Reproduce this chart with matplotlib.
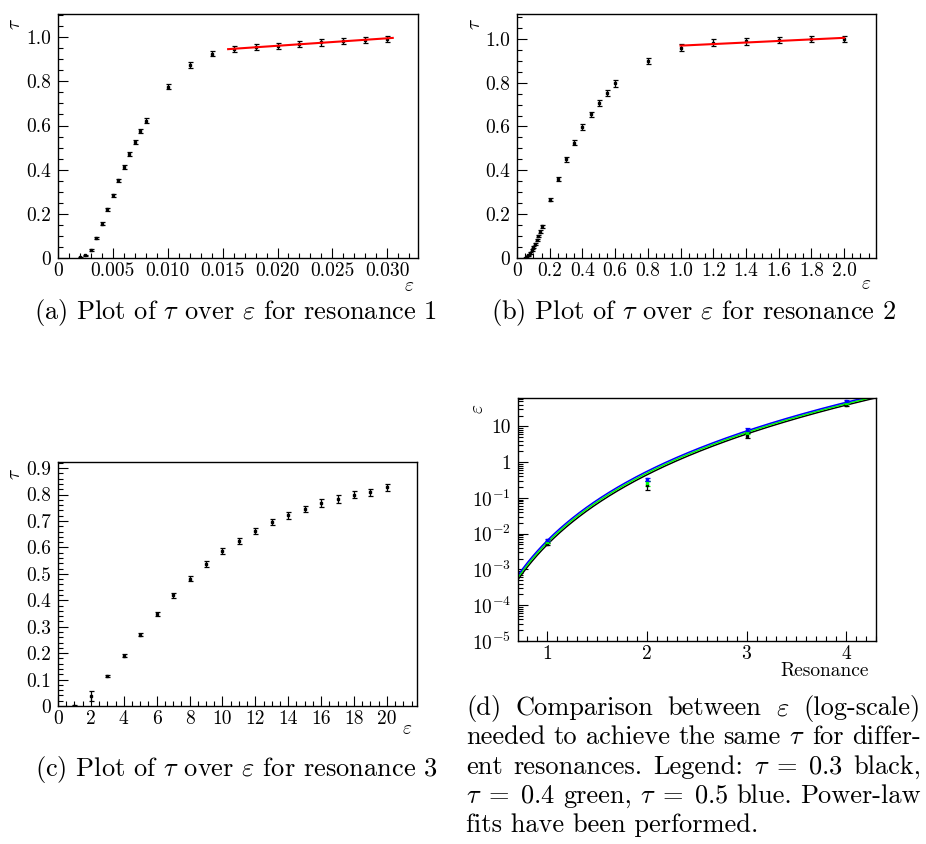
import numpy as np
import matplotlib
matplotlib.use("Agg")
import matplotlib.pyplot as plt
from matplotlib.ticker import MultipleLocator, FuncFormatter, LogLocator, NullFormatter, FixedLocator

plt.rcParams['font.family'] = ['cmr10', 'DejaVu Serif']
plt.rcParams['mathtext.fontset'] = 'cm'
plt.rcParams['axes.formatter.use_mathtext'] = True

W, H = 926, 844

# resonance 1
eps1 = [0.002, 0.0025, 0.003, 0.0035, 0.004, 0.0045, 0.005, 0.0055, 0.006, 0.0065, 0.007,
        0.0075, 0.008, 0.010, 0.012, 0.014, 0.016, 0.018, 0.020, 0.022, 0.024, 0.026, 0.028, 0.030]
tau1 = [0.003, 0.012, 0.035, 0.092, 0.156, 0.221, 0.284, 0.351, 0.413, 0.472, 0.526,
        0.576, 0.622, 0.776, 0.874, 0.926, 0.946, 0.955, 0.961, 0.968, 0.976, 0.982, 0.989, 0.993]
err1 = [0.002, 0.003, 0.004, 0.005, 0.005, 0.006, 0.007, 0.007, 0.008, 0.009, 0.009,
        0.010, 0.010, 0.011, 0.012, 0.013, 0.014, 0.014, 0.014, 0.014, 0.014, 0.014, 0.014, 0.014]
fit1_range = (0.0155, 0.0305)

# resonance 2
eps2 = [0.05, 0.06, 0.07, 0.08, 0.09, 0.10, 0.11, 0.12, 0.13, 0.14, 0.15,
        0.2, 0.25, 0.3, 0.35, 0.4, 0.45, 0.5, 0.55, 0.6, 0.8, 1.0, 1.2, 1.4, 1.6, 1.8, 2.0]
tau2 = [0.0, 0.004, 0.012, 0.022, 0.035, 0.05, 0.065, 0.082, 0.10, 0.12, 0.145,
        0.266, 0.362, 0.450, 0.525, 0.597, 0.656, 0.708, 0.752, 0.796, 0.898, 0.959, 0.982, 0.988, 0.994, 0.998, 0.998]
err2 = [0.002, 0.003, 0.003, 0.004, 0.004, 0.004, 0.005, 0.005, 0.005, 0.006, 0.006,
        0.008, 0.009, 0.010, 0.011, 0.012, 0.012, 0.013, 0.013, 0.014, 0.014, 0.015, 0.015, 0.015, 0.015, 0.015, 0.015]
fit2_range = (1.0, 2.0)

# resonance 3
eps3 = list(range(1, 21))
tau3 = [0.001, 0.038, 0.114, 0.191, 0.270, 0.347, 0.418, 0.482, 0.538, 0.585,
        0.625, 0.662, 0.696, 0.721, 0.745, 0.768, 0.783, 0.800, 0.808, 0.827]
err3 = [0.002, 0.02, 0.005, 0.006, 0.007, 0.008, 0.009, 0.010, 0.011, 0.011,
        0.012, 0.012, 0.013, 0.013, 0.013, 0.014, 0.014, 0.014, 0.014, 0.014]

# comparison
resonance = [1, 2, 3, 4]
eps_t03 = [5.1e-3, 0.23, 5.5, 40.0]
eps_t04 = [5.9e-3, 0.26, 6.8, 45.0]
eps_t05 = [6.8e-3, 0.33, 8.1, 50.0]
err_t03 = [0.4e-3, 0.06, 0.9, 3.0]
err_t04 = [0.4e-3, 0.04, 0.8, 3.0]
err_t05 = [0.5e-3, 0.03, 0.9, 3.0]
# power law fits eps = amp * R^expo
fit_amp = {'black': 5.0e-3, 'lime': 5.7e-3, 'blue': 6.5e-3}
fit_expo = {'black': 6.47, 'lime': 6.44, 'blue': 6.41}

TICK = 14
CAP = 19


def px_axes(fig, left, top, right, bottom):
    return fig.add_axes([left / W, 1 - bottom / H, (right - left) / W, (bottom - top) / H])


def root_style(ax):
    ax.tick_params(which='both', direction='in', top=False, right=False, labelsize=TICK, width=0.8)
    ax.tick_params(which='major', length=7)
    ax.tick_params(which='minor', length=3.5)
    ax.tick_params(axis='x', pad=3)
    ax.tick_params(axis='y', pad=5)
    for s in ax.spines.values():
        s.set_linewidth(1.0)


def fmt(dec):
    return FuncFormatter(lambda v, p: '0' if abs(v) < 1e-12 else f'{v:.{dec}f}')


def pts(ax, x, y, e, color='black'):
    ax.errorbar(x, y, yerr=e, fmt='s', ms=1.8, color=color, ecolor=color,
                elinewidth=0.9, capsize=1.8, capthick=0.9, zorder=3)


def fit_line(ax, x, y, rng):
    x = np.asarray(x)
    y = np.asarray(y)
    m = (x >= rng[0]) & (x <= rng[1] + 1e-9)
    k, b = np.polyfit(x[m], y[m], 1)
    xx = np.linspace(rng[0], rng[1], 50)
    ax.plot(xx, k * xx + b, color='red', lw=1.5, zorder=4)


def px_text(fig, x, y, s, **kw):
    return fig.text(x / W, 1 - y / H, s, **kw)


fig = plt.figure(figsize=(W / 100, H / 100), dpi=100)

# (a)
ax = px_axes(fig, 58, 14, 418, 258)
root_style(ax)
pts(ax, eps1, tau1, err1)
fit_line(ax, eps1, tau1, fit1_range)
ax.set_xlim(0, 0.0328)
ax.set_ylim(0, 1.105)
ax.xaxis.set_major_locator(MultipleLocator(0.005))
ax.xaxis.set_minor_locator(MultipleLocator(0.001))
ax.yaxis.set_major_locator(MultipleLocator(0.2))
ax.yaxis.set_minor_locator(MultipleLocator(0.05))
ax.xaxis.set_major_formatter(fmt(3))
ax.yaxis.set_major_formatter(fmt(1))
px_text(fig, 15, 24, r'$\tau$', rotation=90, ha='center', va='center', fontsize=TICK)
px_text(fig, 409, 286, r'$\varepsilon$', ha='center', va='center', fontsize=TICK)

# (b)
ax = px_axes(fig, 517, 14, 876, 258)
root_style(ax)
pts(ax, eps2, tau2, err2)
fit_line(ax, eps2, tau2, fit2_range)
ax.set_xlim(0, 2.195)
ax.set_ylim(0, 1.113)
ax.xaxis.set_major_locator(MultipleLocator(0.2))
ax.xaxis.set_minor_locator(MultipleLocator(0.05))
ax.yaxis.set_major_locator(MultipleLocator(0.2))
ax.yaxis.set_minor_locator(MultipleLocator(0.05))
ax.xaxis.set_major_formatter(fmt(1))
ax.yaxis.set_major_formatter(fmt(1))
px_text(fig, 475, 24, r'$\tau$', rotation=90, ha='center', va='center', fontsize=TICK)
px_text(fig, 866, 284, r'$\varepsilon$', ha='center', va='center', fontsize=TICK)

# (c)
ax = px_axes(fig, 58, 462, 417, 706)
root_style(ax)
pts(ax, eps3, tau3, err3)
ax.set_xlim(0, 21.83)
ax.set_ylim(0, 0.923)
ax.xaxis.set_major_locator(MultipleLocator(2))
ax.xaxis.set_minor_locator(MultipleLocator(0.5))
ax.yaxis.set_major_locator(MultipleLocator(0.1))
ax.yaxis.set_minor_locator(MultipleLocator(0.02))
ax.xaxis.set_major_formatter(fmt(0))
ax.yaxis.set_major_formatter(fmt(1))
px_text(fig, 15, 474, r'$\tau$', rotation=90, ha='center', va='center', fontsize=TICK)
px_text(fig, 407, 729, r'$\varepsilon$', ha='center', va='center', fontsize=TICK)

# (d)
ax = px_axes(fig, 518, 398, 876, 641)
root_style(ax)
ax.set_yscale('log')
xlo, xhi = 0.705, 4.30
xx = np.linspace(xlo, xhi, 300)
for c in ['black', 'lime', 'blue']:
    ax.plot(xx, fit_amp[c] * xx ** fit_expo[c], color=c, lw=1.1, zorder=2)
pts(ax, resonance, eps_t03, err_t03, 'black')
pts(ax, resonance, eps_t04, err_t04, 'lime')
pts(ax, resonance, eps_t05, err_t05, 'blue')
ax.set_xlim(xlo, xhi)
ax.set_ylim(1e-5, 62)
ax.xaxis.set_major_locator(MultipleLocator(1))
ax.xaxis.set_minor_locator(MultipleLocator(0.1))
ax.xaxis.set_major_formatter(fmt(0))
ax.yaxis.set_major_locator(FixedLocator([1e-5, 1e-4, 1e-3, 1e-2, 1e-1, 1, 10]))
ax.yaxis.set_minor_locator(LogLocator(base=10, subs=np.arange(2, 10), numticks=20))
ax.yaxis.set_minor_formatter(NullFormatter())
ylabels = {-5: r'$10^{-5}$', -4: r'$10^{-4}$', -3: r'$10^{-3}$', -2: r'$10^{-2}$',
           -1: r'$10^{-1}$', 0: '1', 1: '10'}
ax.yaxis.set_major_formatter(FuncFormatter(lambda v, p: ylabels.get(int(round(np.log10(v))), '')))
px_text(fig, 478, 409, r'$\varepsilon$', rotation=90, ha='center', va='center', fontsize=TICK)
px_text(fig, 869, 671, 'Resonance', ha='right', va='center', fontsize=TICK)

# captions
px_text(fig, 236, 319, r'(a) Plot of $\tau$ over $\varepsilon$ for resonance 1',
        ha='center', va='baseline', fontsize=CAP)
px_text(fig, 694, 319, r'(b) Plot of $\tau$ over $\varepsilon$ for resonance 2',
        ha='center', va='baseline', fontsize=CAP)
px_text(fig, 236, 776, r'(c) Plot of $\tau$ over $\varepsilon$ for resonance 3',
        ha='center', va='baseline', fontsize=CAP)

cap_d = [
    ['(d)', 'Comparison', 'between', r'$\varepsilon$', '(log-scale)'],
    ['needed', 'to', 'achieve', 'the', 'same', r'$\tau$', 'for', 'differ-'],
    ['ent', 'resonances.', 'Legend:', r'$\tau\;=\;0.3$', 'black,'],
    [r'$\tau\;=\;0.4$', 'green,', r'$\tau\;=\;0.5$', 'blue.', 'Power-law'],
]
renderer = fig.canvas.get_renderer()
x0, x1 = 466, 921
base = 715
step = 29.3
for i, words in enumerate(cap_d):
    y = base + i * step
    texts = [px_text(fig, 0, y, w, ha='left', va='baseline', fontsize=CAP) for w in words]
    widths = [t.get_window_extent(renderer).width for t in texts]
    gap = (x1 - x0 - sum(widths)) / (len(words) - 1)
    x = x0
    for t, w in zip(texts, widths):
        t.set_x(x / W)
        x += w + gap
px_text(fig, x0, base + 4 * step, 'fits have been performed.', ha='left', va='baseline', fontsize=CAP)

fig.savefig('out.png', dpi=100)
